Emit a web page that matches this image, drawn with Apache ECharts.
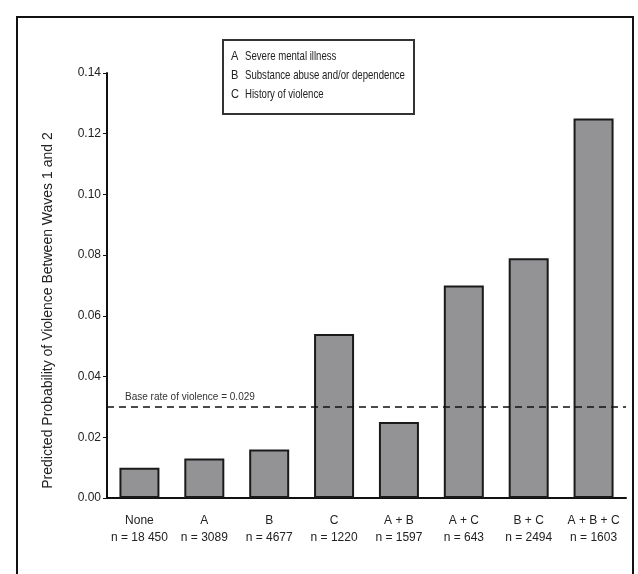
<!DOCTYPE html>
<html>
<head>
<meta charset="utf-8">
<script src="https://cdn.jsdelivr.net/npm/echarts@6/dist/echarts.min.js"></script>
<style>
  html, body { margin: 0; padding: 0; background: #fff; }
  #chart { width: 638px; height: 574px; }
</style>
</head>
<body>
<div id="chart"></div>
<script>
// groups and their sample sizes
var groups = ['None', 'A', 'B', 'C', 'A + B', 'A + C', 'B + C', 'A + B + C'];
var sampleSizes = ['18 450', '3089', '4677', '1220', '1597', '643', '2494', '1603'];

// predicted probability of violence
var probabilities = [0.010, 0.013, 0.016, 0.054, 0.025, 0.070, 0.079, 0.125];

// reference line
var baseRate = 0.030;
var baseRateLabel = 'Base rate of violence = 0.029';

// key box
var keyLetters = ['A', 'B', 'C'];
var keyTexts = ['Severe mental illness', 'Substance abuse and/or dependence', 'History of violence'];

var FONT = '"Liberation Sans", Arial, sans-serif';

var categoryLabels = groups.map(function (g, i) {
    return g + '\nn = ' + sampleSizes[i];
});

var keyGraphics = [{
    type: 'rect',
    shape: { x: 223, y: 40, width: 191, height: 74 },
    style: { fill: '#fff', stroke: '#333', lineWidth: 2 }
}];
keyLetters.forEach(function (letter, i) {
    keyGraphics.push({
        type: 'text', x: 231, y: 50 + i * 19, scaleX: 0.85,
        style: { text: letter, font: '13px ' + FONT, fill: '#222' }
    });
    keyGraphics.push({
        type: 'text', x: 245, y: 50 + i * 19, scaleX: 0.74,
        style: { text: keyTexts[i], font: '13px ' + FONT, fill: '#222' }
    });
});

var chart = echarts.init(document.getElementById('chart'));
chart.setOption({
    animation: false,
    backgroundColor: '#fff',
    grid: { left: 107, top: 73, right: 12, bottom: 76 },
    xAxis: {
        type: 'category',
        data: categoryLabels,
        axisLine: { lineStyle: { color: '#111', width: 2 } },
        axisTick: { show: false },
        axisLabel: {
            color: '#222', fontFamily: FONT, fontSize: 12,
            lineHeight: 17, margin: 14, interval: 0
        }
    },
    yAxis: {
        type: 'value',
        min: 0, max: 0.14, interval: 0.02,
        name: 'Predicted Probability of Violence Between Waves 1 and 2',
        nameLocation: 'middle',
        nameGap: 52,
        nameTextStyle: {
            color: '#222', fontFamily: FONT, fontSize: 14,
            padding: [0, 50, 0, 0]
        },
        axisLine: { show: true, lineStyle: { color: '#111', width: 2 } },
        axisTick: { show: true, length: 4, lineStyle: { color: '#111' } },
        axisLabel: {
            color: '#222', fontFamily: FONT, fontSize: 12, margin: 6,
            formatter: function (v) { return v.toFixed(2); }
        },
        splitLine: { show: false }
    },
    series: [{
        type: 'bar',
        data: probabilities,
        barWidth: 40,
        itemStyle: { color: '#939396', borderColor: '#1a1a1a', borderWidth: 2 },
        markLine: {
            silent: true,
            symbol: 'none',
            lineStyle: { color: '#111', type: [7, 5], width: 1.5 },
            label: {
                show: true, position: 'insideStartTop', distance: [18, 5],
                formatter: baseRateLabel,
                color: '#333', fontFamily: FONT, fontSize: 10
            },
            data: [{ yAxis: baseRate }]
        }
    }],
    graphic: [{
        type: 'rect',
        shape: { x: 17, y: 17, width: 616, height: 570 },
        style: { fill: 'none', stroke: '#111', lineWidth: 2 },
        z: -1
    }].concat(keyGraphics)
});
</script>
</body>
</html>
